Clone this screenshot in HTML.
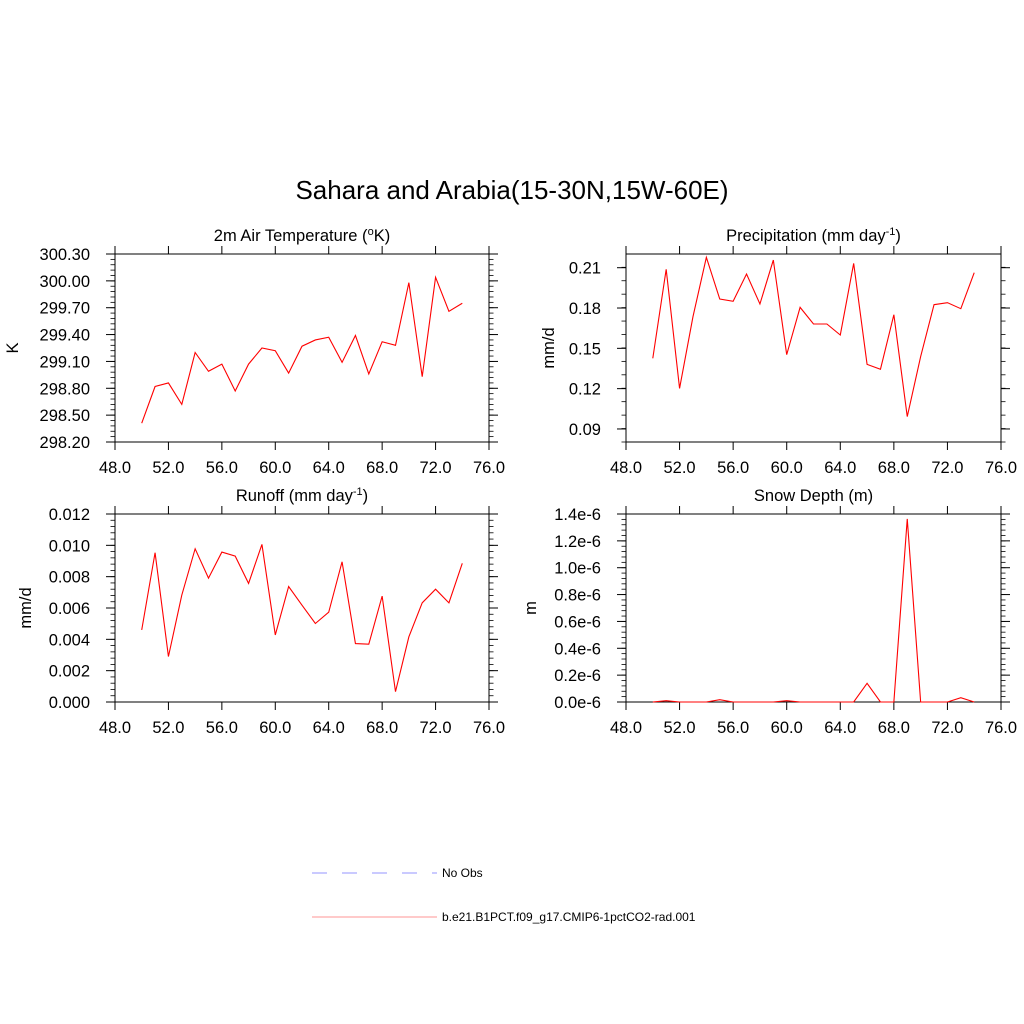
<!DOCTYPE html>
<html><head><meta charset="utf-8"><style>
html,body{margin:0;padding:0;background:#fff;}
svg{display:block;font-family:"Liberation Sans",sans-serif;}
</style></head><body>
<svg id="fig" width="1024" height="1024" viewBox="0 0 1024 1024">
<text x="512" y="199" font-size="26" text-anchor="middle">Sahara and Arabia(15-30N,15W-60E)</text>
<g>
<line x1="312" y1="873" x2="437" y2="873" stroke="#aaaaff" stroke-width="1.2" stroke-dasharray="15,15"/>
<text x="442" y="877" font-size="12">No Obs</text>
<line x1="312" y1="917" x2="437" y2="917" stroke="#ffaaaa" stroke-width="1.2"/>
<text x="442" y="921" font-size="12">b.e21.B1PCT.f09_g17.CMIP6-1pctCO2-rad.001</text>
</g>
</svg>
<script>
const years = [50,51,52,53,54,55,56,57,58,59,60,61,62,63,64,65,66,67,68,69,70,71,72,73,74];
const tempValues = [298.41,298.82,298.86,298.62,299.20,298.99,299.07,298.77,299.07,299.25,299.22,298.97,299.27,299.34,299.37,299.09,299.39,298.96,299.32,299.28,299.98,298.93,300.04,299.66,299.75];
const precipValues = [0.1426,0.2088,0.1202,0.1735,0.2177,0.1867,0.1850,0.2053,0.1830,0.2157,0.1453,0.1805,0.1681,0.1681,0.1599,0.2132,0.1381,0.1344,0.1750,0.0992,0.1438,0.1825,0.1840,0.1795,0.2063];
const runoffValues = [0.00460,0.00953,0.00290,0.00682,0.00978,0.00791,0.00957,0.00931,0.00757,0.01006,0.00428,0.00737,0.00618,0.00501,0.00573,0.00895,0.00373,0.00369,0.00676,0.00066,0.00416,0.00633,0.00720,0.00633,0.00885];
const snowValues = [0,0.01,0,0,0,0.017,0,0,0,0,0.01,0,0,0,0,0,0.139,0,0,1.363,0,0,0,0.032,0];
const xTicks = [48,52,56,60,64,68,72,76];
const tempTicks = [298.2,298.5,298.8,299.1,299.4,299.7,300.0,300.3];
const precipTicks = [0.09,0.12,0.15,0.18,0.21];
const runoffTicks = [0,0.002,0.004,0.006,0.008,0.010,0.012];
const snowTicks = [0,0.2,0.4,0.6,0.8,1.0,1.2,1.4];

const NS='http://www.w3.org/2000/svg';
const svg=document.getElementById('fig');
function mk(tag,attrs,parent){const e=document.createElementNS(NS,tag);for(const k in attrs)e.setAttribute(k,attrs[k]);(parent||svg).appendChild(e);return e;}

function panel(o){
  const g=mk('g',{});
  
  
  const L=o.x0,R=o.x1,T=o.y0,B=o.y1;
  const xs=v=>L+(v-48)/(76-48)*(R-L);
  const ys=v=>B-(v-o.ymin)/(o.ymax-o.ymin)*(B-T);
  const box=mk('rect',{x:L,y:T,width:R-L,height:B-T,fill:'none',stroke:'#000','stroke-width':1},g);
  
  
  // x ticks
  xTicks.forEach(v=>{
    const x=xs(v);
    mk('line',{x1:x,y1:B,x2:x,y2:B+8,stroke:'#000'},g);
    mk('line',{x1:x,y1:T,x2:x,y2:T-8,stroke:'#000'},g);
    const t=mk('text',{x:x,y:B+31,'font-size':16.5,'text-anchor':'middle'},g);
    t.textContent=v.toFixed(1);
    
    
  });
  // y ticks
  const step=o.ticks[1]-o.ticks[0];
  o.ticks.forEach((v,i)=>{
    const y=ys(v);
    mk('line',{x1:L,y1:y,x2:L-9,y2:y,stroke:'#000'},g);
    mk('line',{x1:R,y1:y,x2:R+9,y2:y,stroke:'#000'},g);
    const t=mk('text',{x:L-25,y:y+6,'font-size':16.5,'text-anchor':'end'},g);
    t.textContent=o.fmt(v);
    
    
  });
  const mstep=step/o.minor;
  for(let v=o.ymin;v<=o.ymax+1e-12;v+=mstep){
    const y=ys(v);
    mk('line',{x1:L,y1:y,x2:L-4.5,y2:y,stroke:'#000','stroke-width':0.8},g);
    mk('line',{x1:R,y1:y,x2:R+4.5,y2:y,stroke:'#000','stroke-width':0.8},g);
  }
  const ti=mk('text',{x:(L+R)/2,y:T-13,'font-size':16.5,'text-anchor':'middle'},g);
  ti.innerHTML=o.title;
  
  
  const yt=mk('text',{x:0,y:0,'font-size':16.5,'text-anchor':'middle',transform:`translate(${o.ytx},${(T+B)/2}) rotate(-90)`},g);
  yt.textContent=o.ylab;
  
  
  const pts=years.map((yr,i)=>xs(yr).toFixed(2)+','+ys(o.vals[i]).toFixed(2)).join(' ');
  const pl=mk('polyline',{points:pts,fill:'none',stroke:'#ff0000','stroke-width':1.1},g);
  
  
}
panel({name:'temperature-panel',x0:115,x1:489,y0:254,y1:442,ymin:298.2,ymax:300.3,ticks:tempTicks,minor:5,fmt:v=>v.toFixed(2),vals:tempValues,title:'2m Air Temperature (<tspan baseline-shift="super" font-size="11">o</tspan>K)',ylab:'K',ytx:18});
panel({name:'precipitation-panel',x0:626,x1:1001,y0:254,y1:442,ymin:0.0803,ymax:0.2202,ticks:precipTicks,minor:3,fmt:v=>v.toFixed(2),vals:precipValues,title:'Precipitation (mm day<tspan baseline-shift="super" font-size="11">-1</tspan>)',ylab:'mm/d',ytx:554});
panel({name:'runoff-panel',x0:115,x1:489,y0:514,y1:702,ymin:0,ymax:0.012,ticks:runoffTicks,minor:5,fmt:v=>v.toFixed(3),vals:runoffValues,title:'Runoff (mm day<tspan baseline-shift="super" font-size="11">-1</tspan>)',ylab:'mm/d',ytx:31});
panel({name:'snow-depth-panel',x0:626,x1:1001,y0:514,y1:702,ymin:0,ymax:1.4,ticks:snowTicks,minor:5,fmt:v=>v.toFixed(1)+'e-6',vals:snowValues,title:'Snow Depth (m)',ylab:'m',ytx:536});
</script>
</body></html>
